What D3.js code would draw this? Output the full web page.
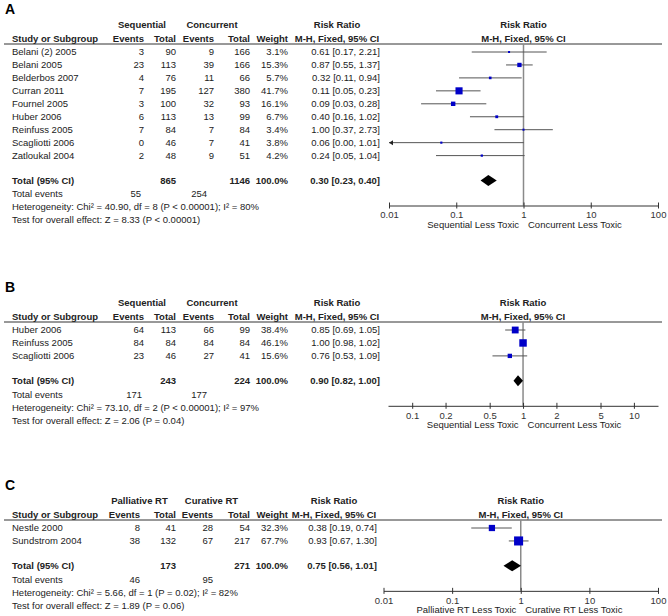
<!DOCTYPE html>
<html>
<head>
<meta charset="utf-8">
<script src="https://cdn.jsdelivr.net/npm/d3@7"></script>
<style>
body { margin: 0; background: #fff; }
text { font-family: "Liberation Sans", Arial, sans-serif; font-size: 9.5px; fill: #222; }
.bold { font-weight: bold; }
.panel-label { font-size: 14px; font-weight: bold; fill: #000; }
.axis text { font-family: "Liberation Sans", Arial, sans-serif; font-size: 9.5px; fill: #333; }
.axis path, .axis line { stroke: #333; }
</style>
</head>
<body>
<div id="chart"></div>
<script>
// ---- panel A : sequential vs concurrent ----
var studiesA = ["Belani (2) 2005", "Belani 2005", "Belderbos 2007", "Curran 2011", "Fournel 2005",
                "Huber 2006", "Reinfuss 2005", "Scagliotti 2006", "Zatloukal 2004"];
var seqEventsA = [3, 23, 4, 7, 3, 6, 7, 0, 2];
var seqTotalA  = [90, 113, 76, 195, 100, 113, 84, 46, 48];
var conEventsA = [9, 39, 11, 127, 32, 13, 7, 7, 9];
var conTotalA  = [166, 166, 66, 380, 93, 99, 84, 41, 51];
var weightA    = [3.1, 15.3, 5.7, 41.7, 16.1, 6.7, 3.4, 3.8, 4.2];
var rrA        = [0.61, 0.87, 0.32, 0.11, 0.09, 0.40, 1.00, 0.06, 0.24];
var lowA       = [0.17, 0.55, 0.11, 0.05, 0.03, 0.16, 0.37, 0.00, 0.05];
var highA      = [2.21, 1.37, 0.94, 0.23, 0.28, 1.02, 2.73, 1.01, 1.04];
var sumTotalA  = [865, 1146];
var sumEventsA = [55, 254];
var pooledA    = [0.30, 0.23, 0.40];
var hetA  = "Heterogeneity: Chi\u00b2 = 40.90, df = 8 (P < 0.00001); I\u00b2 = 80%";
var testA = "Test for overall effect: Z = 8.33 (P < 0.00001)";

// ---- panel B ----
var studiesB   = ["Huber 2006", "Reinfuss 2005", "Scagliotti 2006"];
var seqEventsB = [64, 84, 23];
var seqTotalB  = [113, 84, 46];
var conEventsB = [66, 84, 27];
var conTotalB  = [99, 84, 41];
var weightB    = [38.4, 46.1, 15.6];
var rrB        = [0.85, 1.00, 0.76];
var lowB       = [0.69, 0.98, 0.53];
var highB      = [1.05, 1.02, 1.09];
var sumTotalB  = [243, 224];
var sumEventsB = [171, 177];
var pooledB    = [0.90, 0.82, 1.00];
var hetB  = "Heterogeneity: Chi\u00b2 = 73.10, df = 2 (P < 0.00001); I\u00b2 = 97%";
var testB = "Test for overall effect: Z = 2.06 (P = 0.04)";

// ---- panel C : palliative vs curative RT ----
var studiesC   = ["Nestle 2000", "Sundstrom 2004"];
var palEventsC = [8, 38];
var palTotalC  = [41, 132];
var curEventsC = [28, 67];
var curTotalC  = [54, 217];
var weightC    = [32.3, 67.7];
var rrC        = [0.38, 0.93];
var lowC       = [0.19, 0.67];
var highC      = [0.74, 1.30];
var sumTotalC  = [173, 271];
var sumEventsC = [46, 95];
var pooledC    = [0.75, 0.56, 1.01];
var hetC  = "Heterogeneity: Chi\u00b2 = 5.66, df = 1 (P = 0.02); I\u00b2 = 82%";
var testC = "Test for overall effect: Z = 1.89 (P = 0.06)";

var ticksWide   = [0.01, 0.1, 1, 10, 100];
var ticksNarrow = [0.1, 0.2, 0.5, 1, 2, 5, 10];
var groupsSeq  = ["Sequential", "Concurrent"];
var groupsRT   = ["Palliative RT", "Curative RT"];
var favoursSeq = ["Sequential Less Toxic", "Concurrent Less Toxic"];
var favoursRT  = ["Palliative RT Less Toxic", "Curative RT Less Toxic"];

var width = 668, height = 616;

var svg = d3.select("#chart")
	.append("svg")
	.attr("width", width)
	.attr("height", height);

var boxSize = d3.scaleSqrt().domain([0, 100]).range([0, 11]);

function drawPanel(p) {
	var g = svg.append("g");
	var c = p.cols;
	var rowH = 12.95;
	var n = p.studies.length;
	var row1 = p.top, row2 = p.top + 13.5, lineY = p.top + 19, first = p.top + 27;
	var totalY = first + (n + 1) * rowH - 1;
	var eventsY = totalY + 13.5, hetY = eventsY + 13, testY = hetY + 13;
	var axisY = totalY + 25;

	var x = d3.scaleLog().domain(p.domain).range(p.range);
	var plotMid = (p.range[0] + p.range[1]) / 2;

	g.append("text").attr("class", "panel-label")
		.attr("x", 5).attr("y", p.top - 16).attr("dy", "0.35em").text(p.label);

	// header row 1
	g.append("text").attr("class", "bold").attr("x", p.groupX[0]).attr("y", row1).attr("dy", "0.35em")
		.attr("text-anchor", "middle").text(p.groups[0]);
	g.append("text").attr("class", "bold").attr("x", p.groupX[1]).attr("y", row1).attr("dy", "0.35em")
		.attr("text-anchor", "middle").text(p.groups[1]);
	g.append("text").attr("class", "bold").attr("x", c.rrHead).attr("y", row1).attr("dy", "0.35em")
		.attr("text-anchor", "middle").text("Risk Ratio");
	g.append("text").attr("class", "bold").attr("x", plotMid).attr("y", row1).attr("dy", "0.35em")
		.attr("text-anchor", "middle").text("Risk Ratio");

	// header row 2
	var heads = [["Study or Subgroup", c.study, "start"], ["Events", c.ev1, "end"], ["Total", c.tot1, "end"],
		["Events", c.ev2, "end"], ["Total", c.tot2, "end"], ["Weight", c.weight, "end"],
		["M-H, Fixed, 95% CI", c.rrHead, "middle"], ["M-H, Fixed, 95% CI", plotMid, "middle"]];
	g.selectAll(".head2").data(heads).enter().append("text")
		.attr("class", "bold")
		.attr("x", function(d) { return d[1]; })
		.attr("y", row2).attr("dy", "0.35em")
		.attr("text-anchor", function(d) { return d[2]; })
		.text(function(d) { return d[0]; });

	g.append("line").attr("x1", 4).attr("x2", 662).attr("y1", lineY).attr("y2", lineY)
		.attr("stroke", "#333").attr("stroke-width", 1);

	// line of no effect
	g.append("line").attr("x1", x(1)).attr("x2", x(1)).attr("y1", lineY).attr("y2", axisY)
		.attr("stroke", "#8a8a8a").attr("stroke-width", 1.5);

	// study rows
	var rows = p.studies.map(function(s, i) {
		return {name: s, e1: p.ev1[i], t1: p.tot1[i], e2: p.ev2[i], t2: p.tot2[i],
			w: p.weight[i], rr: p.rr[i], lo: p.low[i], hi: p.high[i], y: first + i * rowH};
	});

	var rg = g.selectAll(".row").data(rows).enter().append("g").attr("class", "row");
	var cells = [
		[function(d) { return d.name; }, c.study, "start"],
		[function(d) { return d.e1; }, c.ev1, "end"],
		[function(d) { return d.t1; }, c.tot1, "end"],
		[function(d) { return d.e2; }, c.ev2, "end"],
		[function(d) { return d.t2; }, c.tot2, "end"],
		[function(d) { return d.w.toFixed(1) + "%"; }, c.weight, "end"],
		[function(d) { return d.rr.toFixed(2) + " [" + d.lo.toFixed(2) + ", " + d.hi.toFixed(2) + "]"; }, c.rr, "end"]
	];
	cells.forEach(function(cell) {
		rg.append("text")
			.attr("x", cell[1])
			.attr("y", function(d) { return d.y; })
			.attr("dy", "0.35em")
			.attr("text-anchor", cell[2])
			.text(cell[0]);
	});

	var lo = p.domain[0], hi = p.domain[1];
	rg.append("line")
		.attr("x1", function(d) { return x(Math.max(d.lo, lo)); })
		.attr("x2", function(d) { return x(Math.min(d.hi, hi)); })
		.attr("y1", function(d) { return d.y; })
		.attr("y2", function(d) { return d.y; })
		.attr("stroke", "#555").attr("stroke-width", 1);

	// arrows where the interval runs off the scale
	rg.filter(function(d) { return d.lo < lo; }).append("path")
		.attr("d", function(d) {
			var x0 = x(lo);
			return "M" + x0 + "," + d.y + "L" + (x0 + 4) + "," + (d.y - 2.5) + "L" + (x0 + 4) + "," + (d.y + 2.5) + "Z";
		})
		.attr("fill", "#222");

	rg.append("rect")
		.attr("x", function(d) { return x(d.rr) - Math.max(boxSize(d.w), 2) / 2; })
		.attr("y", function(d) { return d.y - Math.max(boxSize(d.w), 2) / 2; })
		.attr("width", function(d) { return Math.max(boxSize(d.w), 2); })
		.attr("height", function(d) { return Math.max(boxSize(d.w), 2); })
		.attr("fill", "#0000c8");

	// total row
	var tot = [["Total (95% CI)", c.study, "start"], [p.sumTotal[0], c.tot1, "end"], [p.sumTotal[1], c.tot2, "end"],
		["100.0%", c.weight, "end"],
		[p.pooled[0].toFixed(2) + " [" + p.pooled[1].toFixed(2) + ", " + p.pooled[2].toFixed(2) + "]", c.rr, "end"]];
	g.selectAll(".tot").data(tot).enter().append("text")
		.attr("class", "bold")
		.attr("x", function(d) { return d[1]; })
		.attr("y", totalY).attr("dy", "0.35em")
		.attr("text-anchor", function(d) { return d[2]; })
		.text(function(d) { return d[0]; });

	var xl = x(p.pooled[1]), xm = x(p.pooled[0]), xr = x(p.pooled[2]);
	g.append("path")
		.attr("d", "M" + xl + "," + totalY + "L" + xm + "," + (totalY - 5.5) + "L" + xr + "," + totalY +
			"L" + xm + "," + (totalY + 5.5) + "Z")
		.attr("fill", "#000");

	g.append("text").attr("x", c.study).attr("y", eventsY).attr("dy", "0.35em").text("Total events");
	g.append("text").attr("x", p.eventsX[0]).attr("y", eventsY).attr("dy", "0.35em")
		.attr("text-anchor", "end").text(p.sumEvents[0]);
	g.append("text").attr("x", p.eventsX[1]).attr("y", eventsY).attr("dy", "0.35em")
		.attr("text-anchor", "end").text(p.sumEvents[1]);
	g.append("text").attr("x", c.study).attr("y", hetY).attr("dy", "0.35em").text(p.het);
	g.append("text").attr("x", c.study).attr("y", testY).attr("dy", "0.35em").text(p.test);

	// axis
	var axis = d3.axisBottom(x)
		.tickValues(p.ticks)
		.tickSizeOuter(0)
		.tickSizeInner(3)
		.tickPadding(3)
		.tickFormat(function(d) { return String(d); });
	var ag = g.append("g").attr("class", "axis")
		.attr("transform", "translate(0," + axisY + ")")
		.call(axis);
	ag.selectAll(".tick line").attr("y1", -3).attr("y2", 3);
	ag.select(".domain").attr("stroke-width", 1);

	g.append("text").attr("x", x(1) - 4.5).attr("y", axisY + 19).attr("dy", "0.35em")
		.attr("text-anchor", "end").attr("fill", "#444").text(p.favours[0]);
	g.append("text").attr("x", x(1) + 4.5).attr("y", axisY + 19).attr("dy", "0.35em")
		.attr("text-anchor", "start").attr("fill", "#444").text(p.favours[1]);
}

var colsStd = {study: 12, ev1: 144, tot1: 176, ev2: 214, tot2: 250, weight: 288, rr: 380, rrHead: 337};
var colsC   = {study: 12, ev1: 140, tot1: 176, ev2: 213, tot2: 250, weight: 288, rr: 377, rrHead: 334};

drawPanel({label: "A", top: 25, studies: studiesA, ev1: seqEventsA, tot1: seqTotalA, ev2: conEventsA, tot2: conTotalA,
	weight: weightA, rr: rrA, low: lowA, high: highA, sumTotal: sumTotalA, sumEvents: sumEventsA, pooled: pooledA,
	het: hetA, test: testA, groups: groupsSeq, favours: favoursSeq, ticks: ticksWide,
	domain: [0.01, 100], range: [389, 658], cols: colsStd, groupX: [142, 212], eventsX: [141, 207]});

drawPanel({label: "B", top: 303, studies: studiesB, ev1: seqEventsB, tot1: seqTotalB, ev2: conEventsB, tot2: conTotalB,
	weight: weightB, rr: rrB, low: lowB, high: highB, sumTotal: sumTotalB, sumEvents: sumEventsB, pooled: pooledB,
	het: hetB, test: testB, groups: groupsSeq, favours: favoursSeq, ticks: ticksNarrow,
	domain: [0.0605, 16.5], range: [388, 658], cols: colsStd, groupX: [142, 212], eventsX: [142, 207]});

drawPanel({label: "C", top: 501, studies: studiesC, ev1: palEventsC, tot1: palTotalC, ev2: curEventsC, tot2: curTotalC,
	weight: weightC, rr: rrC, low: lowC, high: highC, sumTotal: sumTotalC, sumEvents: sumEventsC, pooled: pooledC,
	het: hetC, test: testC, groups: groupsRT, favours: favoursRT, ticks: ticksWide,
	domain: [0.01, 100], range: [383.5, 658], cols: colsC, groupX: [139.5, 211.5], eventsX: [140, 213]});
</script>
</body>
</html>
